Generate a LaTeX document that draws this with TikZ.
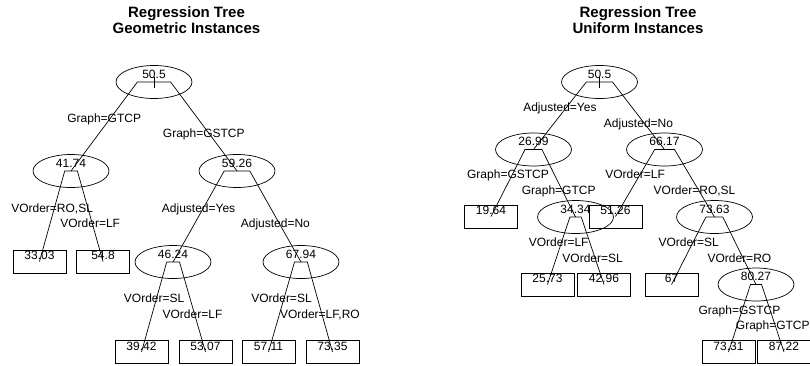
\documentclass[tikz,border=0pt]{standalone}
\usepackage{fontspec}
\setmainfont{Liberation Sans}
\usetikzlibrary{shapes.geometric,calc}

\begin{document}
\begin{tikzpicture}[x=1pt,y=-1pt,line width=0.7pt,font=\fontsize{12}{14}\selectfont,
    split node/.style={ellipse,draw,minimum width=76pt,minimum height=33pt,inner sep=0pt,label={[yshift=8pt]center:#1}},
    leaf node/.style={rectangle,draw,line width=0.9pt,minimum width=53pt,minimum height=23pt,inner sep=0pt,label={[yshift=6pt]center:#1}},
    yes label/.style={midway,anchor=base,yshift=4.2pt},
    no label/.style={midway,anchor=base,yshift=-11.3pt},
    title node/.style={font=\fontsize{15}{16.5}\selectfont\bfseries,align=center}]
        \useasboundingbox (0,0) rectangle (810,365);

        % geometric instances
        \node[title node] at (186.5, 20.3) (gtitle) {Regression Tree\\Geometric Instances};
        \node[split node=50.5] at (154, 82) (g1) {};
        \node[split node=41.74] at (71, 171) (g2) {};
        \node[split node=59.26] at (237, 171) (g3) {};
        \node[leaf node=33.03] at (39.5, 261.5) (g4) {};
        \node[leaf node=54.8] at (103, 261.5) (g5) {};
        \node[split node=46.24] at (173, 262) (g6) {};
        \node[split node=67.94] at (301, 262) (g7) {};
        \node[leaf node=39.42] at (141.5, 352) (g8) {};
        \node[leaf node=53.07] at (205.5, 352) (g9) {};
        \node[leaf node=57.11] at (268.5, 352) (g10) {};
        \node[leaf node=73.35] at (332.5, 352) (g11) {};

        \draw ([yshift=5pt]g1.center) -- ([yshift=-6pt]g1.center);
        \draw (g2.center) -- node[yes label] {Graph=GTCP} ($(g1.center)!.2!(g2.center |- g1.center)$)
            -- ($(g1.center)!.2!(g3.center |- g1.center)$) -- node[no label] {Graph=GSTCP} (g3.center);
        \draw (g4.center) -- node[yes label] {VOrder=RO,SL} ($(g2.center)!.2!(g4.center |- g2.center)$)
            -- ($(g2.center)!.2!(g5.center |- g2.center)$) -- node[no label] {VOrder=LF} (g5.center);
        \draw (g6.center) -- node[yes label] {Adjusted=Yes} ($(g3.center)!.2!(g6.center |- g3.center)$)
            -- ($(g3.center)!.2!(g7.center |- g3.center)$) -- node[no label] {Adjusted=No} (g7.center);
        \draw (g8.center) -- node[yes label] {VOrder=SL} ($(g6.center)!.2!(g8.center |- g6.center)$)
            -- ($(g6.center)!.2!(g9.center |- g6.center)$) -- node[no label] {VOrder=LF} (g9.center);
        \draw (g10.center) -- node[yes label] {VOrder=SL} ($(g7.center)!.2!(g10.center |- g7.center)$)
            -- ($(g7.center)!.2!(g11.center |- g7.center)$) -- node[no label] {VOrder=LF,RO} (g11.center);

        % uniform instances
        \node[title node] at (638, 20.3) (utitle) {Regression Tree\\Uniform Instances};
        \node[split node=50.5] at (599.5, 82) (u1) {};
        \node[split node=26.99] at (533.5, 149.5) (u2) {};
        \node[split node=66.17] at (664.5, 149.5) (u3) {};
        \node[leaf node=19.64] at (491, 216.5) (u4) {};
        \node[split node=34.34] at (575.5, 217) (u5) {};
        \node[leaf node=51.26] at (615.5, 216.5) (u6) {};
        \node[split node=73.63] at (714.5, 217) (u7) {};
        \node[leaf node=25.73] at (547.5, 284.5) (u8) {};
        \node[leaf node=42.96] at (604, 284.5) (u9) {};
        \node[leaf node=67] at (671.5, 284.5) (u10) {};
        \node[split node=80.27] at (756, 284.5) (u11) {};
        \node[leaf node=73.31] at (728.5, 352) (u12) {};
        \node[leaf node=87.22] at (784, 352) (u13) {};

        \draw ([yshift=5pt]u1.center) -- ([yshift=-6pt]u1.center);
        \draw (u2.center) -- node[yes label] {Adjusted=Yes} ($(u1.center)!.2!(u2.center |- u1.center)$)
            -- ($(u1.center)!.2!(u3.center |- u1.center)$) -- node[no label] {Adjusted=No} (u3.center);
        \draw (u4.center) -- node[yes label] {Graph=GSTCP} ($(u2.center)!.2!(u4.center |- u2.center)$)
            -- ($(u2.center)!.2!(u5.center |- u2.center)$) -- node[no label] {Graph=GTCP} (u5.center);
        \draw (u6.center) -- node[yes label] {VOrder=LF} ($(u3.center)!.2!(u6.center |- u3.center)$)
            -- ($(u3.center)!.2!(u7.center |- u3.center)$) -- node[no label] {VOrder=RO,SL} (u7.center);
        \draw (u8.center) -- node[yes label] {VOrder=LF} ($(u5.center)!.2!(u8.center |- u5.center)$)
            -- ($(u5.center)!.2!(u9.center |- u5.center)$) -- node[no label] {VOrder=SL} (u9.center);
        \draw (u10.center) -- node[yes label] {VOrder=SL} ($(u7.center)!.2!(u10.center |- u7.center)$)
            -- ($(u7.center)!.2!(u11.center |- u7.center)$) -- node[no label] {VOrder=RO} (u11.center);
        \draw (u12.center) -- node[yes label] {Graph=GSTCP} ($(u11.center)!.2!(u12.center |- u11.center)$)
            -- ($(u11.center)!.2!(u13.center |- u11.center)$) -- node[no label] {Graph=GTCP} (u13.center);
\end{tikzpicture}
\end{document}
